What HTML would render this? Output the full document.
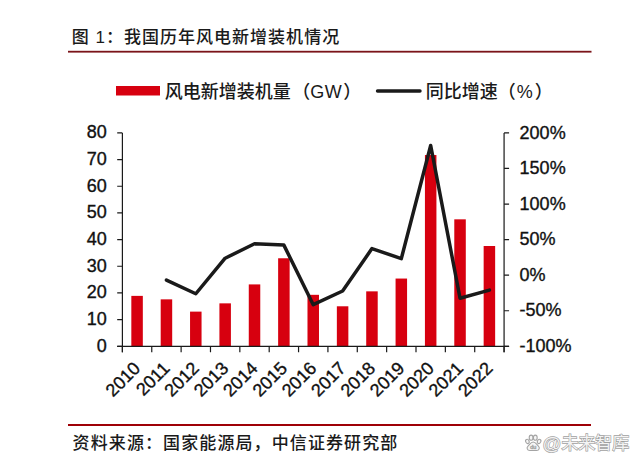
<!DOCTYPE html>
<html><head><meta charset="utf-8"><title>图 1：我国历年风电新增装机情况</title>
<style>
html,body{margin:0;padding:0;background:#fff;}
body{width:640px;height:466px;overflow:hidden;position:relative;}
svg{position:absolute;left:0;top:0;}
</style></head><body>
<svg width="640" height="466" viewBox="0 0 640 466">
<g font-family='"Liberation Sans", "Noto Sans CJK SC", sans-serif' font-size="18" font-weight="500" fill="#1a1a1a">
<text x="71.7" y="43.3" font-size="17" letter-spacing="1.02">图 1：我国历年风电新增装机情况</text>
<rect x="68" y="50.8" width="523.5" height="1.8" fill="#7b1419"/>
<rect x="116" y="86" width="44" height="9.5" fill="#d7000f"/>
<text x="164.7" y="97.5">风电新增装机量<tspan dx="1.6">（</tspan>G<tspan dx="0.5">W</tspan><tspan dx="1.4">）</tspan></text>
<path d="M377.5 91H420" stroke="#1a1a1a" stroke-width="3.4" stroke-linecap="round"/>
<text x="425.8" y="97.5">同比增速（<tspan dx="1">%</tspan><tspan dx="2">）</tspan></text>
</g>
<g font-family='"Liberation Sans", Arial, sans-serif' font-size="18" fill="#111" stroke="#111" stroke-width="0.35">
<rect x="131.33" y="295.88" width="11.5" height="50.42" fill="#d7000f" stroke="none"/>
<rect x="160.69" y="299.35" width="11.5" height="46.95" fill="#d7000f" stroke="none"/>
<rect x="190.05" y="311.62" width="11.5" height="34.68" fill="#d7000f" stroke="none"/>
<rect x="219.41" y="303.35" width="11.5" height="42.95" fill="#d7000f" stroke="none"/>
<rect x="248.77" y="284.41" width="11.5" height="61.89" fill="#d7000f" stroke="none"/>
<rect x="278.13" y="258.27" width="11.5" height="88.03" fill="#d7000f" stroke="none"/>
<rect x="307.49" y="294.82" width="11.5" height="51.48" fill="#d7000f" stroke="none"/>
<rect x="336.85" y="306.29" width="11.5" height="40.01" fill="#d7000f" stroke="none"/>
<rect x="366.21" y="291.35" width="11.5" height="54.95" fill="#d7000f" stroke="none"/>
<rect x="395.57" y="278.55" width="11.5" height="67.75" fill="#d7000f" stroke="none"/>
<rect x="424.93" y="155.04" width="11.5" height="191.26" fill="#d7000f" stroke="none"/>
<rect x="454.29" y="219.33" width="11.5" height="126.97" fill="#d7000f" stroke="none"/>
<rect x="483.65" y="246.00" width="11.5" height="100.30" fill="#d7000f" stroke="none"/>
<path d="M122.40 132.90V352.30M117.20 346.30H509.08M504.08 132.90V352.30" stroke="#1a1a1a" stroke-width="1.2" fill="none"/>
<path d="M117.20 346.30H122.40M117.20 319.62H122.40M117.20 292.95H122.40M117.20 266.27H122.40M117.20 239.60H122.40M117.20 212.93H122.40M117.20 186.25H122.40M117.20 159.58H122.40M117.20 132.90H122.40M504.08 346.30H509.08M504.08 310.73H509.08M504.08 275.17H509.08M504.08 239.60H509.08M504.08 204.03H509.08M504.08 168.47H509.08M504.08 132.90H509.08M122.40 346.30V352.30M151.76 346.30V352.30M181.12 346.30V352.30M210.48 346.30V352.30M239.84 346.30V352.30M269.20 346.30V352.30M298.56 346.30V352.30M327.92 346.30V352.30M357.28 346.30V352.30M386.64 346.30V352.30M416.00 346.30V352.30M445.36 346.30V352.30M474.72 346.30V352.30M504.08 346.30V352.30" stroke="#1a1a1a" stroke-width="1.2" fill="none"/>
<polyline points="166.44,280.06 195.80,293.76 225.16,258.20 254.52,243.80 283.88,245.12 313.24,304.70 342.60,291.02 371.96,248.61 401.32,258.59 430.68,145.50 460.04,298.21 489.40,290.11" fill="none" stroke="#1a1a1a" stroke-width="3.5" stroke-linejoin="round" stroke-linecap="round"/>
<text x="106.8" y="351.70" text-anchor="end">0</text>
<text x="106.8" y="325.02" text-anchor="end">10</text>
<text x="106.8" y="298.35" text-anchor="end">20</text>
<text x="106.8" y="271.67" text-anchor="end">30</text>
<text x="106.8" y="245.00" text-anchor="end">40</text>
<text x="106.8" y="218.33" text-anchor="end">50</text>
<text x="106.8" y="191.65" text-anchor="end">60</text>
<text x="106.8" y="164.98" text-anchor="end">70</text>
<text x="106.8" y="138.30" text-anchor="end">80</text>
<text x="519.6" y="351.90">-100%</text>
<text x="519.6" y="316.33">-50%</text>
<text x="519.6" y="280.77">0%</text>
<text x="519.6" y="245.20">50%</text>
<text x="519.6" y="209.63">100%</text>
<text x="519.6" y="174.07">150%</text>
<text x="519.6" y="138.50">200%</text>
<text x="0" y="0" text-anchor="end" transform="translate(132.58 360.60) rotate(-45) translate(0 12.5)">2010</text>
<text x="0" y="0" text-anchor="end" transform="translate(161.94 360.60) rotate(-45) translate(0 12.5)">2011</text>
<text x="0" y="0" text-anchor="end" transform="translate(191.30 360.60) rotate(-45) translate(0 12.5)">2012</text>
<text x="0" y="0" text-anchor="end" transform="translate(220.66 360.60) rotate(-45) translate(0 12.5)">2013</text>
<text x="0" y="0" text-anchor="end" transform="translate(250.02 360.60) rotate(-45) translate(0 12.5)">2014</text>
<text x="0" y="0" text-anchor="end" transform="translate(279.38 360.60) rotate(-45) translate(0 12.5)">2015</text>
<text x="0" y="0" text-anchor="end" transform="translate(308.74 360.60) rotate(-45) translate(0 12.5)">2016</text>
<text x="0" y="0" text-anchor="end" transform="translate(338.10 360.60) rotate(-45) translate(0 12.5)">2017</text>
<text x="0" y="0" text-anchor="end" transform="translate(367.46 360.60) rotate(-45) translate(0 12.5)">2018</text>
<text x="0" y="0" text-anchor="end" transform="translate(396.82 360.60) rotate(-45) translate(0 12.5)">2019</text>
<text x="0" y="0" text-anchor="end" transform="translate(426.18 360.60) rotate(-45) translate(0 12.5)">2020</text>
<text x="0" y="0" text-anchor="end" transform="translate(455.54 360.60) rotate(-45) translate(0 12.5)">2021</text>
<text x="0" y="0" text-anchor="end" transform="translate(484.90 360.60) rotate(-45) translate(0 12.5)">2022</text>
</g>
<g font-family='"Liberation Sans", "Noto Sans CJK SC", sans-serif' font-size="18" font-weight="500" fill="#1a1a1a">
<rect x="68" y="424" width="523" height="2" fill="#9e0006"/>
<text x="72.6" y="449.2" font-size="17" letter-spacing="1.1">资料来源：国家能源局，中信证券研究部</text>
</g>
<g fill="#f6f6f6" stroke="#a4a4a4" stroke-width="1.1">
<ellipse cx="531.1" cy="437.7" rx="1.9" ry="2.6"/>
<ellipse cx="535.3" cy="437.7" rx="1.9" ry="2.6"/>
<ellipse cx="527.4" cy="441.4" rx="1.7" ry="2.2" transform="rotate(-25 527.4 441.4)"/>
<ellipse cx="539.1" cy="441.4" rx="1.7" ry="2.2" transform="rotate(25 539.1 441.4)"/>
<path d="M533.2 442.0C530.6 442.0 529.8 444.6 528.0 446.1C526.4 447.5 527.0 450.5 529.8 450.5H536.6C539.4 450.5 540.0 447.5 538.4 446.1C536.6 444.6 535.8 442.0 533.2 442.0Z"/>
<text x="530.3" y="449.3" font-family="Liberation Sans" font-size="5.5" stroke-width="0.45" fill="#aaa">du</text>
</g>
<g font-family='"Liberation Sans", "Noto Sans CJK SC", sans-serif' font-size="17" fill="#f4f4f4" stroke="#a0a0a0" stroke-width="1.3" paint-order="stroke">
<text x="542.6" y="449.2"><tspan font-size="18.5" y="450">@</tspan><tspan y="449.2">未来智库</tspan></text>
</g>
</svg>
</body></html>
